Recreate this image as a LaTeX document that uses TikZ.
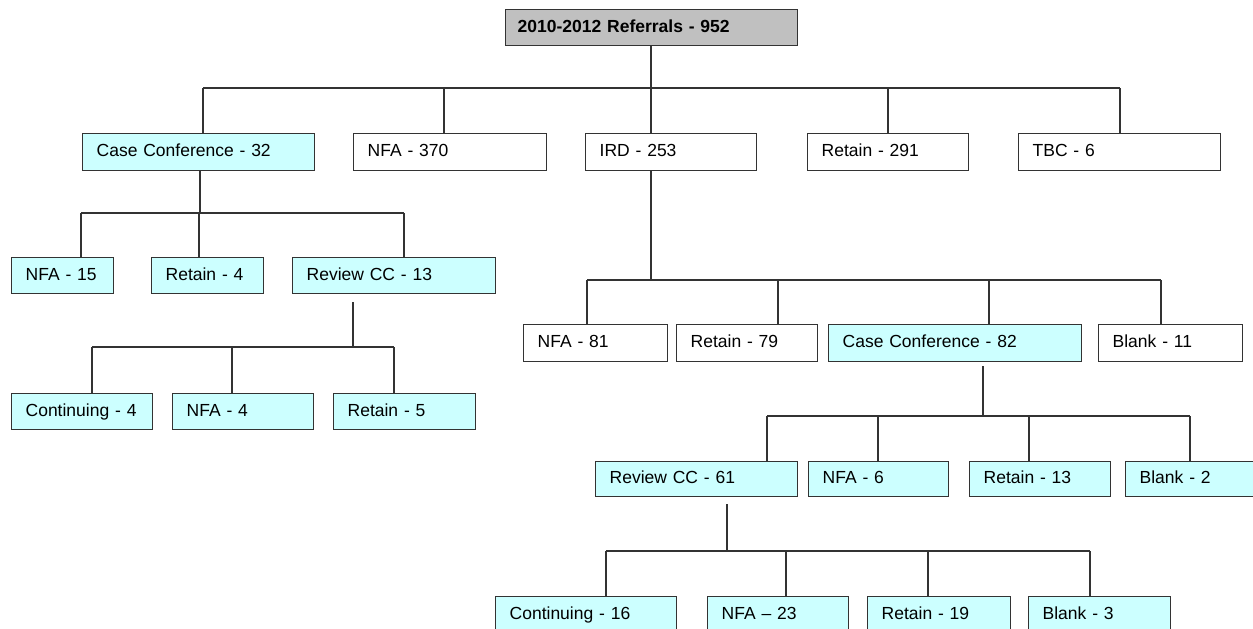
\documentclass[tikz,border=0pt]{standalone}
\usepackage{fontspec}
\setmainfont{Liberation Sans}
\definecolor{cyanbox}{HTML}{CCFFFF}
\definecolor{graybox}{HTML}{C0C0C0}
\definecolor{edgecol}{HTML}{333333}
\tikzset{
  boxbase/.style={draw=edgecol, line width=1.3pt, rectangle, inner xsep=14pt, inner ysep=0pt, align=left,
    text height=12.5pt, text depth=3.5pt, font=\fontsize{17.5}{21}\selectfont},
  plainbox/.style={boxbase, fill=white},
  cyanbx/.style={boxbase, fill=cyanbox},
  topbox/.style={boxbase, fill=graybox, inner xsep=12pt, font=\fontsize{17.5}{21}\selectfont\bfseries},
  conn/.style={draw=edgecol, line width=1.3pt}
}
\newcommand{\bx}[7]{%
  \pgfmathsetlengthmacro{\bxw}{(#4-#2-28)*1pt}%
  \pgfmathsetlengthmacro{\bxh}{(#5-#3)*1pt}%
  \node[#6, anchor=north west, text width=\bxw, minimum height=\bxh] (#1) at (#2pt,-#3pt) {\mbox{#7}};}
\begin{document}
\begin{tikzpicture}[x=1pt,y=1pt]
\useasboundingbox (0,0) rectangle (1253,-629);
\clip (0,0) rectangle (1253,-629);
\fill[white] (0,0) rectangle (1253,-629);
% boxes
\pgfmathsetlengthmacro{\bxw}{(797-505-24)*1pt}
\node[topbox, anchor=north west, text width=\bxw, minimum height=36pt] (top) at (505,-9) {\mbox{2010-2012 Referrals - 952}};
\bx{cc32}{82}{133}{314}{170}{cyanbx}{Case Conference - 32}
\bx{nfa370}{353}{133}{546}{170}{plainbox}{NFA - 370}
\bx{ird}{585}{133}{756}{170}{plainbox}{IRD - 253}
\bx{ret291}{807}{133}{968}{170}{plainbox}{Retain - 291}
\bx{tbc}{1018}{133}{1220}{170}{plainbox}{TBC - 6}
\bx{nfa15}{11}{257}{113}{293}{cyanbx}{NFA - 15}
\bx{ret4}{151}{257}{263}{293}{cyanbx}{Retain - 4}
\bx{rcc13}{292}{257}{495}{293}{cyanbx}{Review CC - 13}
\bx{cont4}{11}{393}{152}{429}{cyanbx}{Continuing - 4}
\bx{nfa4}{172}{393}{313}{429}{cyanbx}{NFA - 4}
\bx{ret5}{333}{393}{475}{429}{cyanbx}{Retain - 5}
\bx{nfa81}{523}{324}{667}{361}{plainbox}{NFA - 81}
\bx{ret79}{676}{324}{817}{361}{plainbox}{Retain - 79}
\bx{cc82}{828}{324}{1081}{361}{cyanbx}{Case Conference - 82}
\bx{blank11}{1098}{324}{1242}{361}{plainbox}{Blank - 11}
\bx{rcc61}{595}{461}{797}{496}{cyanbx}{Review CC - 61}
\bx{nfa6}{808}{461}{948}{496}{cyanbx}{NFA - 6}
\bx{ret13}{969}{461}{1110}{496}{cyanbx}{Retain - 13}
\bx{blank2}{1125}{461}{1268}{496}{cyanbx}{Blank - 2}
\bx{cont16}{495}{596}{676}{632}{cyanbx}{Continuing - 16}
\bx{nfa23}{707}{596}{848}{632}{cyanbx}{NFA – 23}
\bx{ret19}{867}{596}{1010}{632}{cyanbx}{Retain - 19}
\bx{blank3}{1028}{596}{1170}{632}{cyanbx}{Blank - 3}
% level 1 connectors
\coordinate (b1) at (651,-88);
\coordinate (j1a) at (203,-88);
\coordinate (j1b) at (444,-88);
\coordinate (j1c) at (651,-88);
\coordinate (j1d) at (888,-88);
\coordinate (j1e) at (1120,-88);
\draw[conn] (b1 |- top.south) -- (b1);
\draw[conn] (j1a) -- (j1e);
\draw[conn] (j1a) -- (j1a |- cc32.north);
\draw[conn] (j1b) -- (j1b |- nfa370.north);
\draw[conn] (j1c) -- (j1c |- ird.north);
\draw[conn] (j1d) -- (j1d |- ret291.north);
\draw[conn] (j1e) -- (j1e |- tbc.north);
% under Case Conference - 32
\coordinate (s2) at (200,-170);
\coordinate (j2a) at (81,-213);
\coordinate (j2b) at (199,-213);
\coordinate (j2c) at (404,-213);
\draw[conn] (s2 |- cc32.south) -- (s2 |- j2a);
\draw[conn] (j2a) -- (j2c);
\draw[conn] (j2a) -- (j2a |- nfa15.north);
\draw[conn] (j2b) -- (j2b |- ret4.north);
\draw[conn] (j2c) -- (j2c |- rcc13.north);
% under Review CC - 13
\coordinate (s3) at (353,-302);
\coordinate (j3a) at (92,-347);
\coordinate (j3b) at (232,-347);
\coordinate (j3c) at (394,-347);
\draw[conn] (s3) -- (s3 |- j3a);
\draw[conn] (j3a) -- (j3c);
\draw[conn] (j3a) -- (j3a |- cont4.north);
\draw[conn] (j3b) -- (j3b |- nfa4.north);
\draw[conn] (j3c) -- (j3c |- ret5.north);
% under IRD
\coordinate (s4) at (651,-170);
\coordinate (j4a) at (587,-280);
\coordinate (j4b) at (778,-280);
\coordinate (j4c) at (989,-280);
\coordinate (j4d) at (1161,-280);
\draw[conn] (s4 |- ird.south) -- (s4 |- j4a);
\draw[conn] (j4a) -- (j4d);
\draw[conn] (j4a) -- (j4a |- nfa81.north);
\draw[conn] (j4b) -- (j4b |- ret79.north);
\draw[conn] (j4c) -- (j4c |- cc82.north);
\draw[conn] (j4d) -- (j4d |- blank11.north);
% under Case Conference - 82
\coordinate (s5) at (983,-366);
\coordinate (j5a) at (767,-416);
\coordinate (j5b) at (878,-416);
\coordinate (j5c) at (1029,-416);
\coordinate (j5d) at (1190,-416);
\draw[conn] (s5) -- (s5 |- j5a);
\draw[conn] (j5a) -- (j5d);
\draw[conn] (j5a) -- (j5a |- rcc61.north);
\draw[conn] (j5b) -- (j5b |- nfa6.north);
\draw[conn] (j5c) -- (j5c |- ret13.north);
\draw[conn] (j5d) -- (j5d |- blank2.north);
% under Review CC - 61
\coordinate (s6) at (727,-504);
\coordinate (j6a) at (606,-551);
\coordinate (j6b) at (786,-551);
\coordinate (j6c) at (928,-551);
\coordinate (j6d) at (1090,-551);
\draw[conn] (s6) -- (s6 |- j6a);
\draw[conn] (j6a) -- (j6d);
\draw[conn] (j6a) -- (j6a |- cont16.north);
\draw[conn] (j6b) -- (j6b |- nfa23.north);
\draw[conn] (j6c) -- (j6c |- ret19.north);
\draw[conn] (j6d) -- (j6d |- blank3.north);
\end{tikzpicture}
\end{document}
